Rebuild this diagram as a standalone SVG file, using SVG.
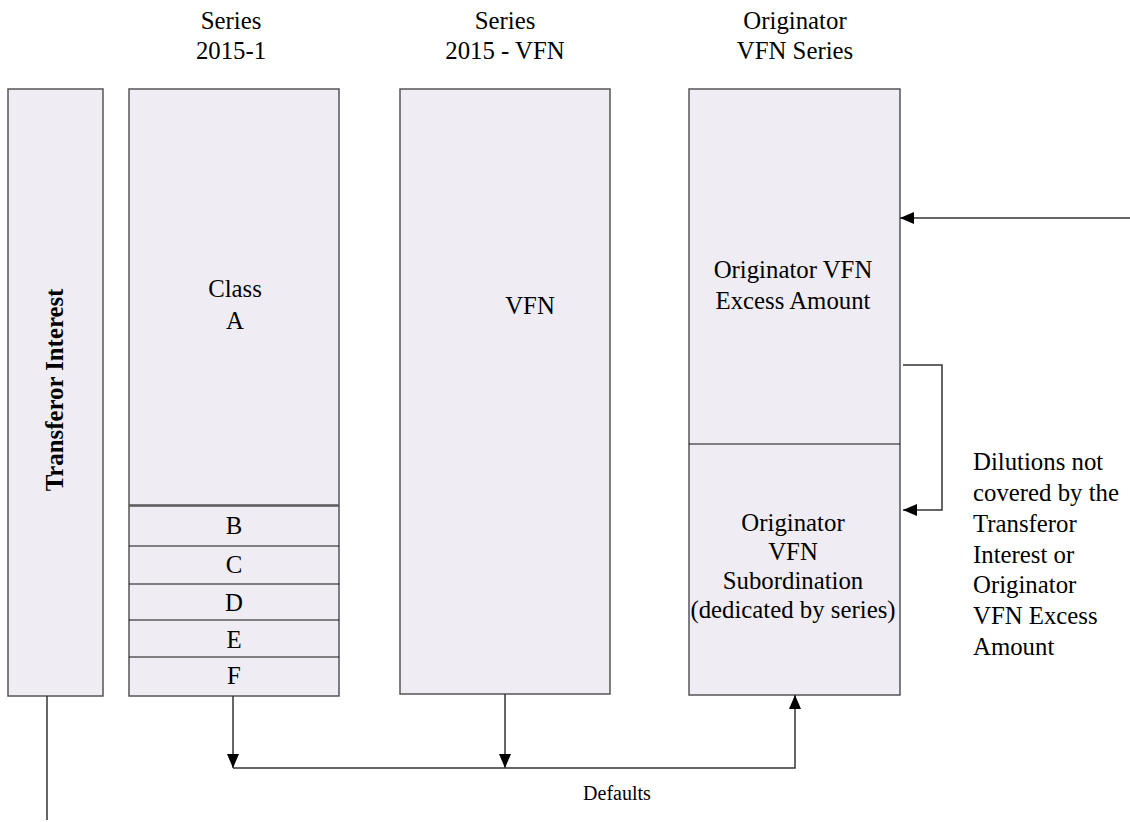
<svg xmlns="http://www.w3.org/2000/svg" width="1130" height="822" viewBox="0 0 1130 822">
<style>
.box{fill:#EFEDF3;stroke:#555;stroke-width:1.5}
.div{stroke:#111;stroke-width:1.2}
.t{font-family:"Liberation Serif","Times New Roman",serif;font-size:24.8px;fill:#000}
.tc{text-anchor:middle}
.b{font-weight:bold}
.small{font-size:20px}
.c{fill:none;stroke:#333;stroke-width:1.5}
</style>
<defs>
<marker id="ah" viewBox="0 0 14 12" refX="14" refY="6" markerWidth="14" markerHeight="12" markerUnits="userSpaceOnUse" orient="auto">
<path d="M0,0 L14,6 L0,12 Z" fill="#000"/>
</marker>
</defs>
<rect width="1130" height="822" fill="#fff"/>

<g id="headers">
<text class="t tc" x="231" y="29">Series</text>
<text class="t tc" x="231" y="59">2015-1</text>
<text class="t tc" x="505" y="29">Series</text>
<text class="t tc" x="505" y="59">2015 - VFN</text>
<text class="t tc" x="795" y="29">Originator</text>
<text class="t tc" x="795" y="59">VFN Series</text>
</g>

<g id="transferor-interest">
<rect class="box" x="8" y="89" width="95" height="607"/>
<text class="t tc b" transform="translate(63,390) rotate(-90)">Transferor Interest</text>
</g>

<g id="class-a">
<rect class="box" x="129" y="89" width="210" height="416"/>
<text class="t tc" x="235" y="297">Class</text>
<text class="t tc" x="235" y="329">A</text>
</g>

<g id="classes-b-f">
<rect class="box" x="129" y="506" width="210" height="190"/>
<line class="div" x1="129" y1="546" x2="339" y2="546"/>
<line class="div" x1="129" y1="584" x2="339" y2="584"/>
<line class="div" x1="129" y1="620" x2="339" y2="620"/>
<line class="div" x1="129" y1="657" x2="339" y2="657"/>
<text class="t tc" x="234" y="534">B</text>
<text class="t tc" x="234" y="573">C</text>
<text class="t tc" x="234" y="611">D</text>
<text class="t tc" x="234" y="648">E</text>
<text class="t tc" x="234" y="684">F</text>
</g>

<g id="vfn">
<rect class="box" x="400" y="89" width="210" height="605"/>
<text class="t tc" x="530" y="314">VFN</text>
</g>

<g id="originator-vfn">
<rect class="box" x="689" y="89" width="211" height="606"/>
<line class="div" x1="689" y1="444" x2="900" y2="444"/>
<text class="t tc" x="793" y="278">Originator VFN</text>
<text class="t tc" x="793" y="309">Excess Amount</text>
<text class="t tc" x="793" y="531">Originator</text>
<text class="t tc" x="793" y="560">VFN</text>
<text class="t tc" x="793" y="589">Subordination</text>
<text class="t tc" x="793" y="618">(dedicated by series)</text>
</g>

<g id="dilutions-label">
<text class="t" x="973" y="470">Dilutions not</text>
<text class="t" x="973" y="501">covered by the</text>
<text class="t" x="973" y="532">Transferor</text>
<text class="t" x="973" y="563">Interest or</text>
<text class="t" x="973" y="593">Originator</text>
<text class="t" x="973" y="624">VFN Excess</text>
<text class="t" x="973" y="655">Amount</text>
</g>

<g id="defaults-label">
<text class="t tc small" x="617" y="800">Defaults</text>
</g>

<g id="connectors">
<line class="c" x1="1130" y1="218" x2="900" y2="218" marker-end="url(#ah)"/>
<polyline class="c" points="903,365 942,365 942,510 903,510" marker-end="url(#ah)"/>
<line class="c" x1="233" y1="696" x2="233" y2="768" marker-end="url(#ah)"/>
<line class="c" x1="505" y1="694" x2="505" y2="768" marker-end="url(#ah)"/>
<polyline class="c" points="233,768 795,768 795,695" marker-end="url(#ah)"/>
<line class="c" x1="47" y1="696" x2="47" y2="820"/>
</g>
</svg>
